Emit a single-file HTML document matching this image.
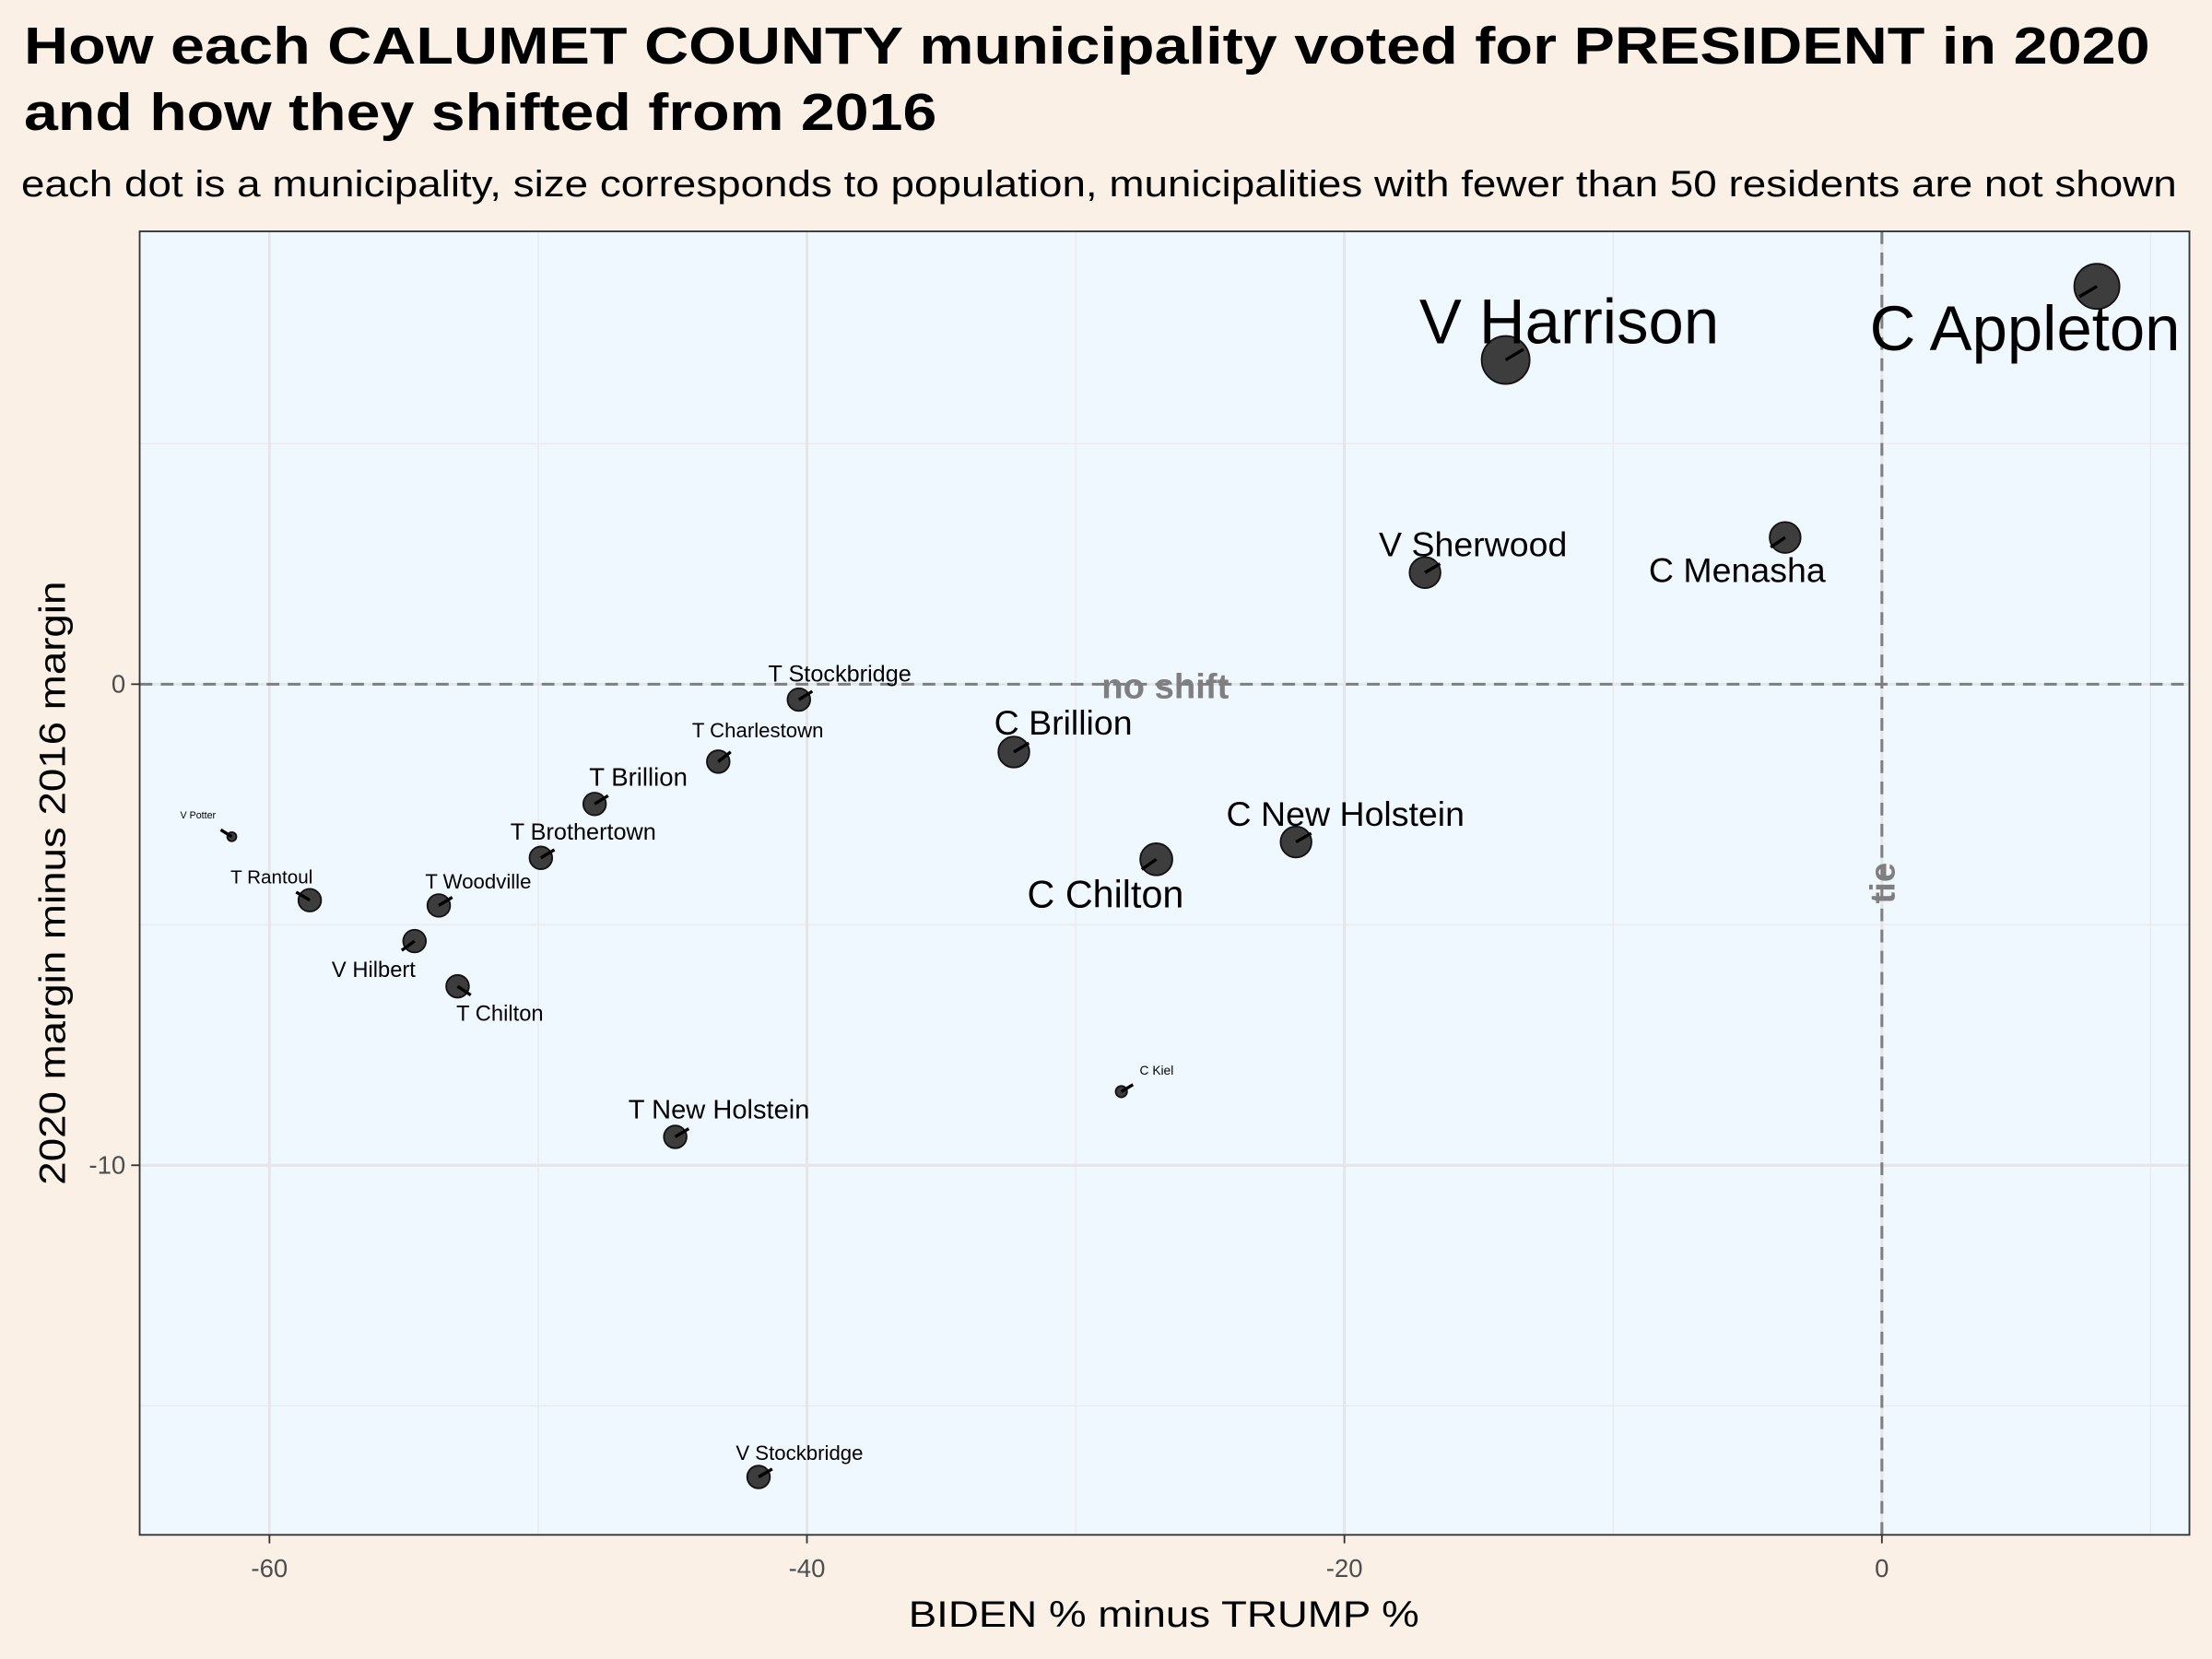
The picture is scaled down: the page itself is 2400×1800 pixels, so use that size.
<!DOCTYPE html>
<html><head><meta charset="utf-8"><style>
html,body{margin:0;padding:0;background:#faf0e6;}
svg{display:block;font-family:"Liberation Sans",Arial,sans-serif;}
</style></head><body>
<svg id="chart" width="2400" height="1800" viewBox="0 0 1568 1176" xmlns="http://www.w3.org/2000/svg">
<rect x="0" y="0" width="1568" height="1176" fill="#faf0e6"/>
<text x="17" y="45" font-size="37" font-weight="bold" fill="#000" textLength="1507" lengthAdjust="spacingAndGlyphs">How each CALUMET COUNTY municipality voted for PRESIDENT in 2020</text>
<text x="17" y="92" font-size="37" font-weight="bold" fill="#000" textLength="647" lengthAdjust="spacingAndGlyphs">and how they shifted from 2016</text>
<text x="15" y="139" font-size="26" fill="#000" textLength="1528" lengthAdjust="spacingAndGlyphs">each dot is a municipality, size corresponds to population, municipalities with fewer than 50 residents are not shown</text>
<rect x="99" y="164" width="1453" height="924" fill="#f0f8ff"/>
<g id="grid"></g>
<g id="refs"></g>
<g id="marks"></g>
<rect x="99" y="164" width="1453" height="924" fill="none" stroke="#333" stroke-width="1.2"/>
<g id="axes"></g>
<text x="825" y="1153" font-size="26" text-anchor="middle" fill="#000" textLength="362" lengthAdjust="spacingAndGlyphs">BIDEN % minus TRUMP %</text>
<text transform="translate(46,626) rotate(-90)" font-size="26" text-anchor="middle" fill="#000" textLength="428" lengthAdjust="spacingAndGlyphs">2020 margin minus 2016 margin</text>
</svg>
<script>
const names = ["C Appleton","V Harrison","C Menasha","V Sherwood","T Stockbridge","C Brillion","T Charlestown","T Brillion","C New Holstein","C Chilton","T Brothertown","V Potter","T Rantoul","T Woodville","V Hilbert","T Chilton","C Kiel","T New Holstein","V Stockbridge"];
const margin2020 = [8.0,-14.0,-3.6,-17.0,-40.3,-32.3,-43.3,-47.9,-21.8,-27.0,-49.9,-61.4,-58.5,-53.7,-54.6,-53.0,-28.3,-44.9,-41.8];
const shift = [8.27,6.74,3.05,2.32,-0.32,-1.41,-1.61,-2.49,-3.28,-3.64,-3.61,-3.17,-4.49,-4.60,-5.34,-6.28,-8.47,-9.41,-16.48];
const population = [11100,12500,5200,5200,2800,5200,2800,2800,5200,5600,2800,450,2800,2800,2800,2800,700,2800,2800];
const xTicks = [-60,-40,-20,0];
const yTicks = [0,-10];
const xMinor = [-50,-30,-10,10];
const yMinor = [5,-5,-15];

// layout (label offsets in px, font sizes) - not data
const labelDx = [-51,45,-34,34,29,35,28,31,35,-36,30,-24,-27,28,-29,30,25,31,29];
const labelDy = [30,-27,23,-20,-18,-21,-22,-19,-20,25,-18,-15,-16,-17,21,20,-15,-19,-17];
const labelSize = [45,45,24.5,24.5,16.5,24.5,14.5,18,24.5,27,16.5,7,13.5,14.5,15.5,15.5,9,19,14.5];

const NS="http://www.w3.org/2000/svg";
const X = v => 1334 + (v-0)*19.05;
const Y = v => 485 - v*34.1;
const R = p => Math.sqrt(p)*0.152;
function mk(tag, attrs, parent){const e=document.createElementNS(NS,tag);for(const k in attrs)e.setAttribute(k,attrs[k]);parent.appendChild(e);return e;}
const grid=document.getElementById('grid'), refs=document.getElementById('refs'), marks=document.getElementById('marks'), axes=document.getElementById('axes');

xMinor.forEach(v=>{const l=mk('line',{x1:X(v),x2:X(v),y1:164,y2:1088,stroke:'#ebebeb','stroke-width':1},grid);

});
yMinor.forEach(v=>{const l=mk('line',{x1:99,x2:1552,y1:Y(v),y2:Y(v),stroke:'#ebebeb','stroke-width':1},grid);

});
xTicks.forEach(v=>{const l=mk('line',{x1:X(v),x2:X(v),y1:164,y2:1088,stroke:'#e6e6e6','stroke-width':2},grid);


const t=mk('line',{x1:X(v),x2:X(v),y1:1088,y2:1094,stroke:'#333','stroke-width':1.2},axes);


const tx=mk('text',{x:X(v),y:1118,'font-size':18,'text-anchor':'middle',fill:'#4d4d4d'},axes);tx.textContent=v;

});
yTicks.forEach(v=>{const l=mk('line',{x1:99,x2:1552,y1:Y(v),y2:Y(v),stroke:'#e6e6e6','stroke-width':2},grid);


const t=mk('line',{x1:93,x2:99,y1:Y(v),y2:Y(v),stroke:'#333','stroke-width':1.2},axes);


const tx=mk('text',{x:89,y:Y(v)+6,'font-size':18,'text-anchor':'end',fill:'#4d4d4d'},axes);tx.textContent=v;

});

const h=mk('line',{x1:99,x2:1552,y1:Y(0),y2:Y(0),stroke:'#7f7f7f','stroke-width':2,'stroke-dasharray':'9,6'},refs);


const v0=mk('line',{x1:X(0),x2:X(0),y1:164,y2:1088,stroke:'#7f7f7f','stroke-width':2,'stroke-dasharray':'9,6'},refs);


const ns=mk('text',{x:826,y:Y(0)+10,'font-size':25,'font-weight':'bold','text-anchor':'middle',fill:'#7f7f7f'},refs);ns.textContent='no shift';


const tie=mk('text',{transform:`translate(${X(0)+9},626) rotate(-90)`,'font-size':25,'font-weight':'bold','text-anchor':'middle',fill:'#7f7f7f'},refs);tie.textContent='tie';



names.forEach((n,i)=>{
 const cx=X(margin2020[i]), cy=Y(shift[i]), r=R(population[i]);
 const dx=labelDx[i], dy=labelDy[i], d=Math.hypot(dx,dy);
 const len=Math.min(r*0.4+8, d*0.6);
 const seg=mk('line',{x1:cx,y1:cy,x2:cx+dx/d*len,y2:cy+dy/d*len,stroke:'#000','stroke-width':2.2},marks);
 
 
 const c=mk('circle',{cx:cx,cy:cy,r:r,fill:'#333','fill-opacity':0.95,stroke:'#111','stroke-width':1.2},marks);
 
 
 const s2=mk('line',{x1:cx,y1:cy,x2:cx+dx/d*Math.min(len,r),y2:cy+dy/d*Math.min(len,r),stroke:'#000','stroke-width':2.2},marks);
 
 
 const t=mk('text',{x:cx+dx,y:cy+dy,'font-size':labelSize[i],'text-anchor':'middle','dominant-baseline':'central',fill:'#000'},marks);
 t.textContent=n;
 
 
});
</script>
</body></html>
